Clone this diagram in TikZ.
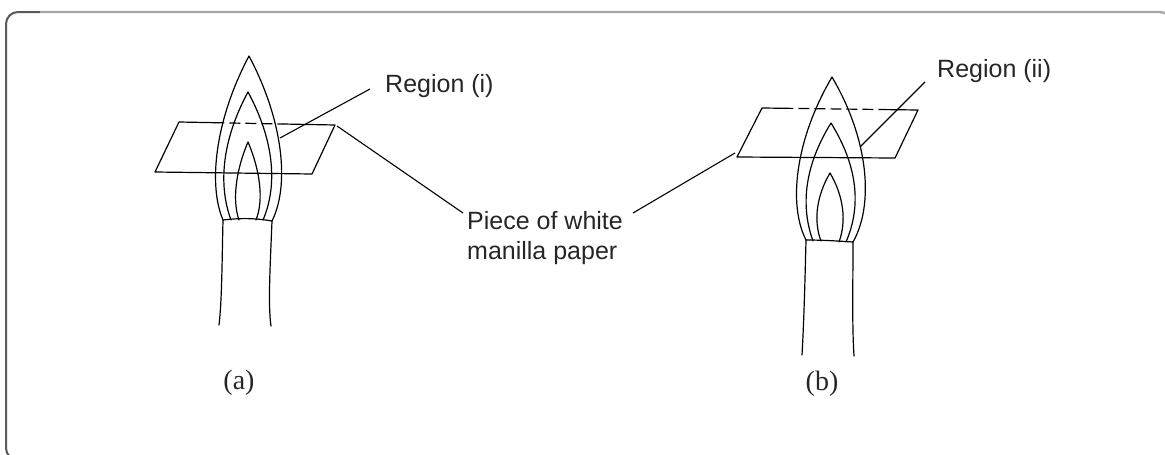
\documentclass[tikz,border=0pt]{standalone}
\usepackage{fontspec}
\newfontfamily\labelfont{Liberation Sans}
\newfontfamily\capfont{Liberation Serif}
\usetikzlibrary{calc}

\begin{document}
\begin{tikzpicture}[x=1pt,y=-1pt,
            outline/.style={line width=1.2pt,line cap=round,line join=round},
            hidden/.style={line width=1.2pt,dash pattern=on 11pt off 5pt},
            leader/.style={line width=1.1pt},
            label/.style={font=\labelfont\fontsize{25}{30}\selectfont,inner sep=0pt,text=black!85},
            caption/.style={font=\capfont\fontsize{28}{30}\selectfont,inner sep=0pt,text=black!85}
        ]
            \useasboundingbox (0,0) rectangle (1165,455);
            \clip (0,0) rectangle (1165,455);

            % Frame
            \draw[black!65,line width=2pt,rounded corners=12pt] (40,460) -- (6,460) -- (6,12) -- (40,12);
            \draw[black!35,line width=2.4pt,rounded corners=12pt] (40,12) -- (1172,12) -- (1172,60);

            % Paper corners
            \coordinate (pa1) at (179,122);
            \coordinate (pa2) at (335,125);
            \coordinate (pa3) at (312,174);
            \coordinate (pa4) at (155,172);
            \coordinate (pb1) at (762,108);
            \coordinate (pb2) at (918,110);
            \coordinate (pb3) at (895,158);
            \coordinate (pb4) at (737,157);

            % Paper (a)
            \draw[outline] ($(pa1)!0.22!(pa2)$) -- (pa1) -- (pa4) -- (pa3) -- (pa2) -- ($(pa1)!0.67!(pa2)$);
            \draw[hidden] ($(pa1)!0.22!(pa2)$) -- ($(pa1)!0.67!(pa2)$);

            % Paper (b)
            \draw[outline] ($(pb1)!0.13!(pb2)$) -- (pb1) -- (pb4) -- (pb3) -- (pb2) -- ($(pb1)!0.76!(pb2)$);
            \draw[hidden] ($(pb1)!0.13!(pb2)$) -- ($(pb1)!0.76!(pb2)$);

            % Flame (a)
            \draw[outline] (223,220) .. controls (208,185) and (215,120) .. (249,56)
                .. controls (283,120) and (290,185) .. (272,221);
            \draw[outline] (231,220) .. controls (218,185) and (222,140) .. (248,92)
                .. controls (274,140) and (278,185) .. (263,220);
            \draw[outline] (239,220) .. controls (232,200) and (236,170) .. (248,142)
                .. controls (260,170) and (264,200) .. (256,220);

            % Burner (a)
            \draw[outline] (223,220) .. controls (240,218) and (255,218) .. (272,221);
            \draw[outline] (223,220) .. controls (222,260) and (222,300) .. (219,325);
            \draw[outline] (272,221) .. controls (270,270) and (268,305) .. (271,326);

            % Flame (b)
            \draw[outline] (806,240) .. controls (788,205) and (795,140) .. (832,77)
                .. controls (869,140) and (874,205) .. (853,242);
            \draw[outline] (813,241) .. controls (800,205) and (805,165) .. (831,123)
                .. controls (857,165) and (862,205) .. (846,242);
            \draw[outline] (821,241) .. controls (813,220) and (817,195) .. (830,173)
                .. controls (843,195) and (847,220) .. (839,242);

            % Burner (b)
            \draw[outline] (806,240) .. controls (822,240) and (838,241) .. (853,242);
            \draw[outline] (806,240) .. controls (805,280) and (804,320) .. (802,355);
            \draw[outline] (853,242) .. controls (853,285) and (852,325) .. (854,356);

            % Labels
            \node[label,anchor=base west] (regionA) at (385,92) {Region (i)};
            \node[label,anchor=base west] (regionB) at (937,77) {Region (ii)};
            \node[label,anchor=north west,align=left] (manilla) at (467,211) {Piece of white\\manilla paper};
            \node[caption,anchor=base] (capA) at (239,389) {(a)};
            \node[caption,anchor=base] (capB) at (822,390) {(b)};

            % Leader ends
            \coordinate (ra-foot) at (280,138);
            \coordinate (ra-head) at (370,89);
            \coordinate (rb-foot) at (860,147);
            \coordinate (rb-head) at (925,82);
            \coordinate (ma-foot) at (337,126);
            \coordinate (ma-head) at (463,213);
            \coordinate (mb-foot) at (735,153);
            \coordinate (mb-head) at (633,213);

            % Leaders
            \draw[leader] (ra-foot) -- (ra-head);
            \draw[leader] (rb-foot) -- (rb-head);
            \draw[leader] (ma-foot) -- (ma-head);
            \draw[leader] (mb-foot) -- (mb-head);
        \end{tikzpicture}
\end{document}
